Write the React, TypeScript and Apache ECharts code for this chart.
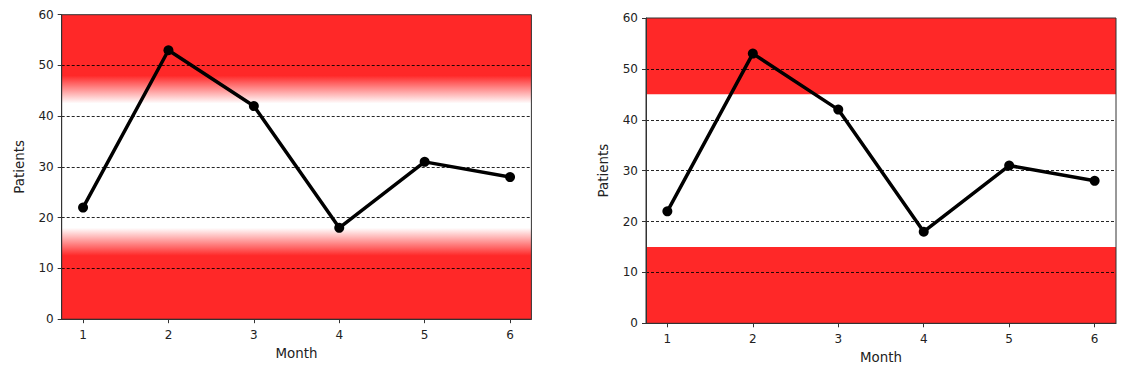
import React, { useEffect, useRef } from "react";
import * as echarts from "echarts";

const months = [1, 2, 3, 4, 5, 6];
const patients = [22, 53, 42, 18, 31, 28];
const yTicks = [0, 10, 20, 30, 40, 50, 60];
// left chart: faded bands [solidFrom, fadeTo]
const leftUpperBand = [48, 42.5];
const leftLowerBand = [12.5, 18];
// right chart: hard bands
const rightUpperBand = [45, 60];
const rightLowerBand = [0, 15];

const RED = "#ff2828";
const RED0 = "rgba(255,40,40,0)";

const grids = [
  { left: 61.7, top: 14.7, width: 469.7, height: 304.5 },
  { left: 646, top: 18, width: 470, height: 305.3 },
];

export default function App() {
  const ref = useRef<HTMLDivElement>(null);
  useEffect(() => {
    document.body.style.margin = "0";
    const chart = echarts.init(ref.current!, null, { renderer: "svg" });
    const font = "DejaVu Sans";
    const txt = "#222";
    const xAxisFor = (i: number) => ({
      type: "value",
      gridIndex: i,
      min: 0.75,
      max: 6.25,
      z: 3,
      name: "Month",
      nameLocation: "middle",
      nameGap: 28,
      nameTextStyle: { fontFamily: font, fontSize: 13.4, color: txt },
      axisLine: { show: true, onZero: false, lineStyle: { color: "#333", width: 1 } },
      axisTick: { show: true, length: 4, customValues: months, lineStyle: { color: "#333" } },
      axisLabel: { customValues: months, fontFamily: font, fontSize: 12, color: txt, margin: 10 },
      splitLine: { show: false },
    });
    const yAxisFor = (i: number) => ({
      type: "value",
      gridIndex: i,
      min: 0,
      max: 60,
      interval: 10,
      z: 3,
      name: "Patients",
      nameLocation: "middle",
      nameGap: 36,
      nameTextStyle: { fontFamily: font, fontSize: 13.4, color: txt },
      axisLine: { show: true, lineStyle: { color: "#333", width: 1 } },
      axisTick: { show: true, length: 4, lineStyle: { color: "#333" } },
      axisLabel: {
        fontFamily: font, fontSize: 12, color: txt, margin: 8,
        formatter: (v: number) => (yTicks.includes(v) ? String(v) : ""),
      },
      splitLine: {
        show: true,
        showMinLine: false,
        showMaxLine: false,
        lineStyle: { color: "#000", type: [3, 2], width: 1, opacity: 0.85 },
      },
    });
    const vgrad = (stops: [number, string][]) =>
      new echarts.graphic.LinearGradient(0, 0, 0, 1, stops.map(([offset, color]) => ({ offset, color })));

    const upperSpan = 60 - leftUpperBand[1];
    const lowerSpan = leftLowerBand[1];

    const lineSeries = (i: number) => ({
      type: "line",
      xAxisIndex: i,
      yAxisIndex: i,
      z: 10,
      data: months.map((m, k) => [m, patients[k]]),
      symbol: "circle",
      symbolSize: 10,
      lineStyle: { color: "#000", width: 3.5 },
      itemStyle: { color: "#000" },
    });

    chart.setOption({
      animation: false,
      grid: grids.map((g) => ({ ...g, containLabel: false })),
      xAxis: [xAxisFor(0), xAxisFor(1)],
      yAxis: [yAxisFor(0), yAxisFor(1)],
      series: [
        {
          type: "line",
          xAxisIndex: 0,
          yAxisIndex: 0,
          z: 1,
          data: [],
          silent: true,
          markArea: {
            silent: true,
            data: [
              [
                { yAxis: leftUpperBand[1], itemStyle: { color: vgrad([[0, RED], [(60 - leftUpperBand[0]) / upperSpan, RED], [1, RED0]]) } },
                { yAxis: 60 },
              ],
              [
                { yAxis: 0, itemStyle: { color: vgrad([[0, RED0], [(leftLowerBand[1] - leftLowerBand[0]) / lowerSpan, RED], [1, RED]]) } },
                { yAxis: leftLowerBand[1] },
              ],
            ],
          },
        },
        {
          type: "line",
          xAxisIndex: 1,
          yAxisIndex: 1,
          z: 1,
          data: [],
          silent: true,
          markArea: {
            silent: true,
            itemStyle: { color: RED },
            data: [
              [{ yAxis: rightUpperBand[0] }, { yAxis: rightUpperBand[1] }],
              [{ yAxis: rightLowerBand[0] }, { yAxis: rightLowerBand[1] }],
            ],
          },
        },
        lineSeries(0),
        lineSeries(1),
      ],
      graphic: grids.map((g) => ({
        type: "rect",
        z: 100,
        silent: true,
        shape: { x: g.left, y: g.top, width: g.width, height: g.height },
        style: { fill: "none", stroke: "#333", lineWidth: 1 },
      })),
    });
    return () => chart.dispose();
  }, []);
  return <div ref={ref} style={{ width: 1140, height: 381 }} />;
}
